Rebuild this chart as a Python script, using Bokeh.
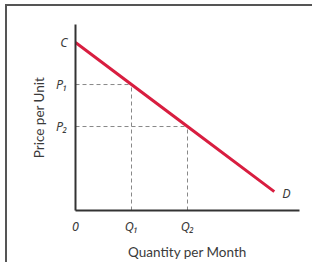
from bokeh.plotting import figure
from bokeh.layouts import column
from bokeh.models import Range1d, FixedTicker
from bokeh.core.properties import value
from bokeh.embed import file_html
from bokeh.resources import INLINE

# Demand curve points (quantity, price)
quantity = [0, 1, 2, 3.55]
price = [4, 3, 2, 0.45]
# marked points
q_marks = [1, 2]
p_marks = [3, 2]
x_ticks = [0, 1, 2]
x_labels = ["0", "Q\u2081", "Q\u2082"]
y_ticks = [2, 3, 4]
y_labels = ["P\u2082", "P\u2081", "C"]
curve_label = "D"
x_title = "Quantity per Month"
y_title = "Price per Unit"

FONT = "Lato"
TICKFONT = "Noto Sans"
TXT = "#3a3a3a"

p = figure(frame_width=224, frame_height=186,
           min_border_left=68, min_border_right=13,
           min_border_top=18, min_border_bottom=44,
           x_range=Range1d(0, 4), y_range=Range1d(0, 4.43),
           output_backend="svg", toolbar_location=None)
p.outline_line_color = None
p.grid.visible = False

for ax in (p.xaxis, p.yaxis):
    ax.axis_line_color = "#333"
    ax.axis_line_width = 2
    ax.major_tick_line_color = None
    ax.minor_tick_line_color = None
    ax.major_label_text_font = TICKFONT
    ax.major_label_text_font_size = "12.5px"
    ax.major_label_text_font_style = "italic"
    ax.major_label_text_color = TXT
    ax.axis_label_text_font = FONT
    ax.axis_label_text_font_size = "13.5px"
    ax.axis_label_text_font_style = "normal"
    ax.axis_label_text_color = TXT

p.xaxis.ticker = FixedTicker(ticks=x_ticks)
p.xaxis.major_label_overrides = {t: l for t, l in zip(x_ticks, x_labels)}
p.xaxis.major_label_standoff = 1
p.xaxis.axis_label = x_title
p.xaxis.axis_label_standoff = 6

p.yaxis.ticker = FixedTicker(ticks=y_ticks)
p.yaxis.major_label_overrides = {t: l for t, l in zip(y_ticks, y_labels)}
p.yaxis.major_label_standoff = 2
p.yaxis.axis_label = y_title
p.yaxis.axis_label_standoff = 6

# dashed guides
for q, pr in zip(q_marks, p_marks):
    p.line([0, q], [pr, pr], line_color="#888", line_width=1, line_dash="4 3")
    p.line([q, q], [0, pr], line_color="#888", line_width=1, line_dash="4 3")

p.line(quantity, price, line_color="#d81e40", line_width=3)

p.text(x=[quantity[-1]], y=[price[-1]], text=[curve_label],
       text_font=value(TICKFONT), text_font_size="12.5px", text_font_style="italic",
       text_color=TXT, x_offset=8, y_offset=2, text_baseline="middle", text_align="left")

layout = column(p, styles={"border-top": "2px solid #555", "border-left": "2px solid #555",
                           "border-right": "0", "border-bottom": "0",
                           "margin-left": "5px", "margin-top": "4px"})

open("out.html", "w").write(file_html(layout, INLINE))
